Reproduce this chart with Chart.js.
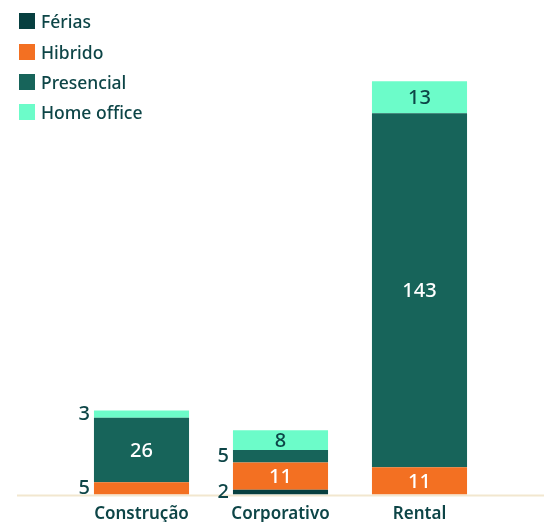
<!DOCTYPE html>
<html>
<head>
<meta charset="utf-8">
<script src="https://cdn.jsdelivr.net/npm/chart.js@4"></script>
<style>
  html, body { margin: 0; padding: 0; background: #fff; overflow: hidden; }
  #wrap { position: relative; width: 544px; height: 522px; overflow: hidden; }
  #legend { position: absolute; left: 19px; top: 6px; font-family: "Noto Sans", sans-serif; font-size: 17.5px; font-weight: 500; color: #0d4547; }
  .item { height: 30.4px; display: flex; align-items: center; }
  .box { width: 16px; height: 16px; margin-right: 6px; }
</style>
</head>
<body>
<div id="wrap">
  <canvas id="chart" width="544" height="533"></canvas>
  <div id="legend"></div>
</div>
<script>
// categories and stacked series (bottom to top)
const categories = ['Construção', 'Corporativo', 'Rental'];
const ferias = [0, 2, 0];
const hibrido = [5, 11, 11];
const presencial = [26, 5, 143];
const homeOffice = [3, 8, 13];

const textColor = '#0d4547';

const series = [
    { label: 'Férias', data: ferias, color: '#073f40', labelColor: '#ffffff' },
    { label: 'Hibrido', data: hibrido, color: '#f37022', labelColor: '#ffffff' },
    { label: 'Presencial', data: presencial, color: '#17645a', labelColor: '#ffffff' },
    { label: 'Home office', data: homeOffice, color: '#6cfcc9', labelColor: textColor }
];

// HTML legend, vertical, top left
const legend = document.getElementById('legend');
series.forEach(s => {
    const row = document.createElement('div');
    row.className = 'item';
    const box = document.createElement('span');
    box.className = 'box';
    box.style.background = s.color;
    const txt = document.createElement('span');
    txt.textContent = s.label;
    row.appendChild(box);
    row.appendChild(txt);
    legend.appendChild(row);
});

// value labels: inside if the segment is tall enough, otherwise left of the bar
const barLabels = {
    id: 'barLabels',
    afterDatasetsDraw(chart) {
        const ctx = chart.ctx;
        ctx.save();
        ctx.font = '500 20px "Noto Sans", sans-serif';
        ctx.textBaseline = 'middle';
        chart.data.datasets.forEach((ds, i) => {
            const meta = chart.getDatasetMeta(i);
            meta.data.forEach((bar, j) => {
                const v = ds.data[j];
                if (!v) return;
                const top = Math.min(bar.y, bar.base);
                const h = Math.abs(bar.base - bar.y);
                const cy = top + h / 2;
                if (h >= 18) {
                    ctx.textAlign = 'center';
                    ctx.fillStyle = series[i].labelColor;
                    ctx.fillText(v, bar.x, cy + 1);
                } else {
                    ctx.textAlign = 'right';
                    ctx.fillStyle = textColor;
                    ctx.fillText(v, bar.x - bar.width / 2 - 4, cy);
                }
            });
        });
        ctx.restore();
    }
};

// beige baseline running past the plot area
const baseLine = {
    id: 'baseLine',
    beforeDatasetsDraw(chart) {
        const ctx = chart.ctx;
        ctx.save();
        ctx.strokeStyle = '#f2e7cf';
        ctx.lineWidth = 2;
        ctx.beginPath();
        ctx.moveTo(17, chart.chartArea.bottom + 1);
        ctx.lineTo(chart.width, chart.chartArea.bottom + 1);
        ctx.stroke();
        ctx.restore();
    }
};

new Chart(document.getElementById('chart'), {
    type: 'bar',
    data: {
        labels: categories,
        datasets: series.map(s => ({
            label: s.label,
            data: s.data,
            backgroundColor: s.color,
            borderWidth: 0
        }))
    },
    options: {
        responsive: false,
        animation: false,
        layout: { padding: { top: 49, left: 72, right: 55, bottom: 0 } },
        categoryPercentage: 1,
        barPercentage: 0.684,
        plugins: {
            legend: { display: false },
            tooltip: { enabled: false }
        },
        scales: {
            x: {
                stacked: true,
                grid: { display: false, drawTicks: false },
                border: { display: false },
                ticks: {
                    color: textColor,
                    padding: 9,
                    font: { family: '"Noto Sans", sans-serif', size: 17, weight: 600 }
                }
            },
            y: {
                stacked: true,
                display: false,
                min: 0,
                max: 180
            }
        }
    },
    plugins: [baseLine, barLabels]
});
</script>
</body>
</html>
